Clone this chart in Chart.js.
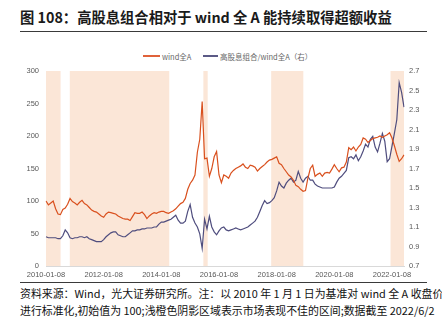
<!DOCTYPE html>
<html>
<head>
<meta charset="utf-8">
<script src="https://cdn.jsdelivr.net/npm/chart.js@4/dist/chart.umd.min.js"></script>
<style>
  html, body { margin: 0; padding: 0; background: #fff; }
  body { position: relative; width: 442px; height: 323px; overflow: hidden; font-family: "Noto Sans CJK SC", "Noto Sans", sans-serif; }
  #title { position: absolute; left: 20px; top: 6px; font-size: 14.3px; font-weight: bold; color: #1a1a1a; white-space: nowrap; letter-spacing: 0; }
  .rule { position: absolute; left: 20px; width: 407px; height: 1px; background: #3a3a3a; }
  #legend { position: absolute; top: 49px; left: 0; width: 442px; height: 14px; font-size: 7.5px; color: #666; }
  .lg { position: absolute; top: 0; display: flex; align-items: center; height: 14px; white-space: nowrap; }
  .lg i { display: inline-block; height: 2px; margin-right: 2px; }
  #wrap { position: absolute; left: 0; top: 36px; width: 442px; height: 244px; }
  .note { position: absolute; left: 20px; font-size: 10.9px; color: #111; white-space: nowrap; }
</style>
</head>
<body>
<div id="title">图 108：高股息组合相对于 wind 全 A 能持续取得超额收益</div>
<div class="rule" style="top:31px"></div>
<div id="legend">
  <div class="lg" style="left:143px"><i style="width:17px;background:#e0623a"></i>wind全A</div>
  <div class="lg" style="left:203px"><i style="width:15px;background:#5b5a86"></i>高股息组合/wind全A（右）</div>
</div>
<div id="wrap"><canvas id="c" width="442" height="244"></canvas></div>
<div class="rule" style="top:282px"></div>
<div class="note" style="top:285px">资料来源：Wind，光大证券研究所。注：以 2010 年 1 月 1 日为基准对 wind 全 A 收盘价</div>
<div class="note" style="top:302px">进行标准化,初始值为 100;浅橙色阴影区域表示市场表现不佳的区间;数据截至 2022/6/2</div>
<script>
// Monthly observations, 2010-01 .. 2022-06
const firstYear = 2010;
const monthCount = 150;

// Labels shown on the date axis
const xTickLabels = ['2010-01-08', '2012-01-08', '2014-01-08', '2016-01-08', '2018-01-08', '2020-01-08', '2022-01-08'];

// wind全A, normalised to 100 (left axis)
const windAll = [
  100, 94, 97, 100, 88, 80, 79, 87, 89, 95, 104, 99,
  97, 94, 98, 101, 96, 94, 90, 86, 84, 83, 80, 77,
  75, 80, 83, 82, 81, 80, 77, 75, 73, 72, 72, 70,
  76, 82, 81, 81, 83, 79, 73, 77, 80, 82, 81, 83,
  84, 84, 82, 81, 83, 85, 88, 92, 96, 98, 104, 118,
  127, 132, 140, 175, 195, 253, 165, 166, 138, 150, 168, 176,
  140, 128, 140, 138, 135, 143, 147, 150, 152, 154, 157, 152,
  150, 155, 154, 152, 146, 150, 153, 156, 160, 163, 164, 166,
  168, 158, 156, 150, 145, 140, 137, 132, 124, 122, 118, 115,
  116, 135, 150, 155, 138, 141, 143, 138, 143, 144, 143, 149,
  156, 150, 145, 151, 152, 160, 182, 179, 183, 177, 183, 187,
  197, 195, 190, 193, 196, 197, 198, 200, 198, 200, 202, 205,
  197, 185, 172, 161, 165, 171
];

// 高股息组合 / wind全A (right axis)
const dividendRatio = [
  1.00, 0.99, 0.99, 0.99, 0.99, 0.98, 0.98, 1.01, 1.07, 1.04, 0.99, 0.98,
  0.99, 0.99, 1.00, 1.00, 0.99, 1.00, 0.98, 0.97, 0.96, 0.95, 0.95, 0.95,
  0.97, 1.00, 1.02, 1.04, 1.05, 1.05, 1.02, 1.01, 1.00, 1.00, 1.02, 1.04,
  1.06, 1.06, 1.07, 1.07, 1.08, 1.08, 1.09, 1.09, 1.09, 1.10, 1.10, 1.13,
  1.15, 1.15, 1.16, 1.17, 1.18, 1.20, 1.22, 1.17, 1.14, 1.14, 1.16, 1.26,
  1.33, 1.20, 1.14, 1.10, 1.03, 0.88, 1.18, 1.08, 1.21, 1.10, 1.05, 1.02,
  1.06, 1.09, 1.10, 1.07, 1.06, 1.07, 1.08, 1.09, 1.08, 1.07, 1.08, 1.09,
  1.10, 1.12, 1.14, 1.16, 1.20, 1.26, 1.32, 1.37, 1.34, 1.35, 1.37, 1.40,
  1.47, 1.56, 1.52, 1.50, 1.55, 1.58, 1.60, 1.56, 1.58, 1.67, 1.60, 1.56,
  1.60, 1.62, 1.58, 1.58, 1.54, 1.52, 1.51, 1.50, 1.50, 1.50, 1.50, 1.50,
  1.51, 1.56, 1.60, 1.62, 1.65, 1.68, 1.81, 1.82, 1.80, 1.84, 1.78, 1.82,
  1.88, 1.95, 1.92, 2.00, 2.03, 1.92, 1.87, 1.96, 2.06, 1.98, 1.77, 1.80,
  1.93, 2.06, 2.20, 2.58, 2.48, 2.33
];

// Weak-market periods (shaded)
const bandStarts = ['2010-01-08', '2010-11-05', '2015-06-23', '2017-10-30', '2021-12-20'];
const bandEnds   = ['2010-07-10', '2014-04-17', '2015-08-17', '2018-12-11', '2022-06-08'];

const monthLabels = [];
for (let k = 0; k < monthCount; k++) {
  const y = firstYear + Math.floor(k / 12);
  const m = (k % 12) + 1;
  monthLabels.push(y + '-' + String(m).padStart(2, '0') + '-08');
}

// position of a date on the monthly category axis (fractional index)
function dateToIndex(s) {
  const [y, m, d] = s.split('-').map(Number);
  return (y - firstYear) * 12 + (m - 1) + (d - 8) / 30.5;
}

const shadePlugin = {
  id: 'weakShade',
  beforeDatasetsDraw(chart) {
    const { ctx, chartArea, scales } = chart;
    ctx.save();
    ctx.fillStyle = '#fbe6d7';
    for (let b = 0; b < bandStarts.length; b++) {
      const x0 = scales.x.getPixelForValue(dateToIndex(bandStarts[b]));
      const x1 = scales.x.getPixelForValue(dateToIndex(bandEnds[b]));
      const l = Math.max(x0, chartArea.left), r = Math.min(x1, chartArea.right);
      ctx.fillRect(l, chartArea.top, r - l, chartArea.bottom - chartArea.top);
    }
    ctx.restore();
  }
};

const tickFont = { family: '"Liberation Sans", Arial, sans-serif', size: 7.5 };

new Chart(document.getElementById('c'), {
  type: 'line',
  data: {
    labels: monthLabels,
    datasets: [
      {
        label: 'wind全A',
        data: windAll,
        yAxisID: 'yL',
        borderColor: '#d9501e',
        borderWidth: 1.2,
        pointRadius: 0,
        tension: 0
      },
      {
        label: '高股息组合/wind全A（右）',
        data: dividendRatio,
        yAxisID: 'yR',
        borderColor: '#4f4d7e',
        borderWidth: 1.2,
        pointRadius: 0,
        tension: 0
      }
    ]
  },
  options: {
    responsive: false,
    animation: false,
    events: [],
    layout: { padding: { top: 35, bottom: 0, left: 0, right: 0 } },
    plugins: { legend: { display: false }, tooltip: { enabled: false } },
    scales: {
      x: {
        type: 'category',
        offset: false,
        grid: { display: false, drawTicks: false },
        border: { display: true, color: '#d9d9d9', width: 1 },
        ticks: {
          autoSkip: false,
          maxRotation: 0,
          padding: 4,
          color: '#595959',
          font: tickFont,
          callback(v) {
            const lab = this.getLabelForValue(v);
            return xTickLabels.includes(lab) ? lab : '';
          }
        },
        afterFit(s) { s.height = 14; }
      },
      yL: {
        position: 'left',
        min: 0, max: 300,
        grid: { display: false, drawTicks: false },
        border: { display: false },
        ticks: { stepSize: 50, padding: 7, color: '#595959', font: tickFont },
        afterFit(s) { s.width = 46; }
      },
      yR: {
        position: 'right',
        min: 0.7, max: 2.7,
        grid: { display: false, drawTicks: false },
        border: { display: false },
        ticks: {
          stepSize: 0.2, padding: 5, color: '#595959', font: tickFont,
          callback(v) { return Number(v).toFixed(1); }
        },
        afterFit(s) { s.width = 38; }
      }
    }
  },
  plugins: [shadePlugin]
});
</script>
</body>
</html>
